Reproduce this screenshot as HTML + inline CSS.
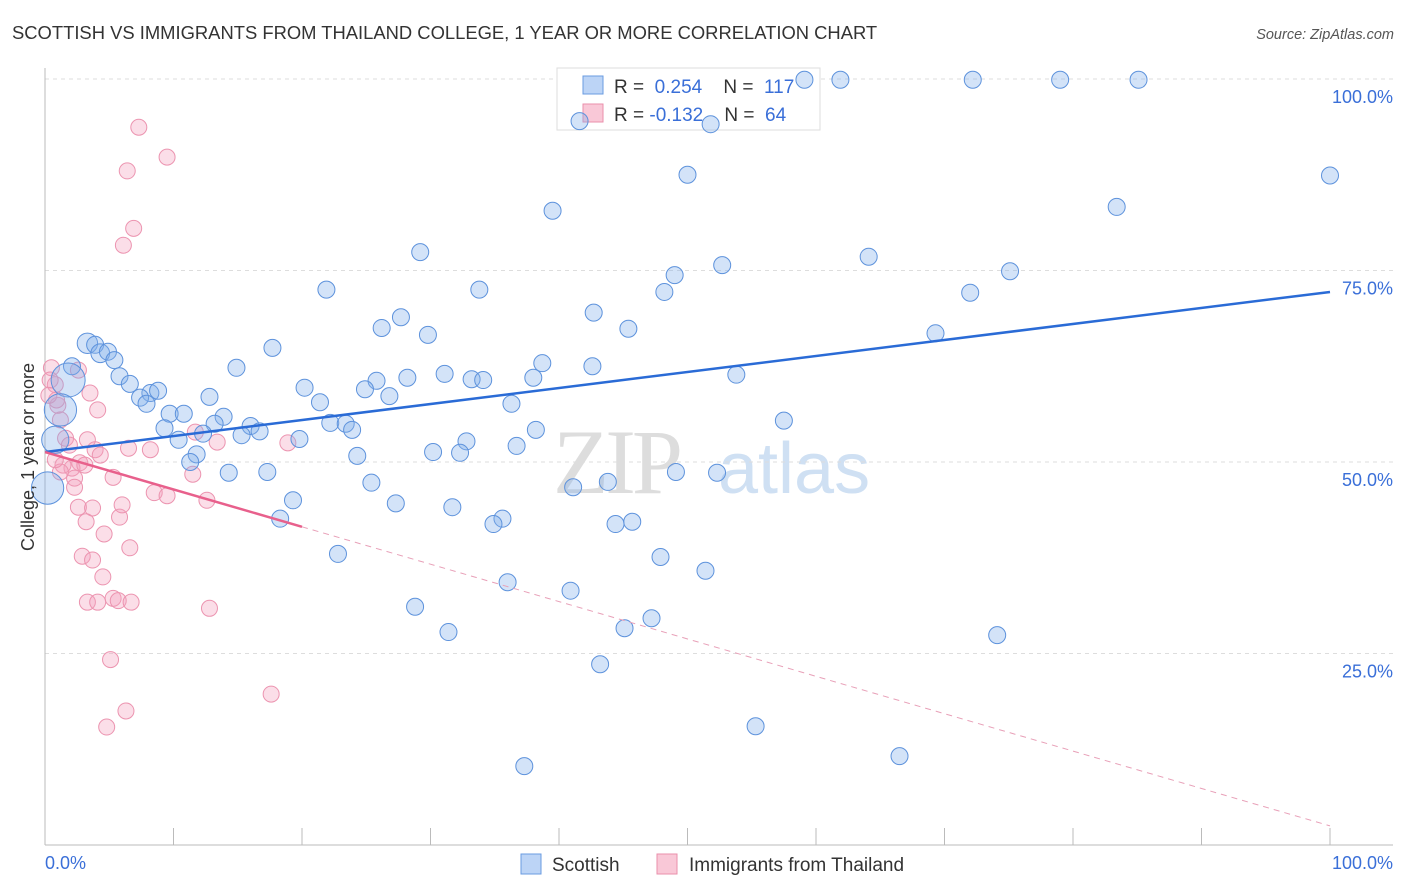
<!DOCTYPE html>
<html><head><meta charset="utf-8"><style>
body{margin:0;background:#fff;font-family:"Liberation Sans",sans-serif}
svg{display:block}
</style></head><body>
<svg id="chart" width="1406" height="892">
<text x="12" y="39" font-size="18.4" fill="#333">SCOTTISH VS IMMIGRANTS FROM THAILAND COLLEGE, 1 YEAR OR MORE CORRELATION CHART</text>
<text x="1394" y="39" font-size="14.5" fill="#555" font-style="italic" text-anchor="end">Source: ZipAtlas.com</text>
<g><text x="553" y="493" font-size="92" fill="#ddd" font-family="Liberation Serif,serif" letter-spacing="-4">ZIP</text><text x="718" y="493" font-size="72" fill="#cfe0f3">atlas</text></g>
<g id="grid"></g><g id="axes"></g>
<g>
<rect x="557" y="68" width="263" height="62" fill="#fff" stroke="#ddd"/>
<rect x="583" y="76" width="20" height="18" fill="#bcd4f6" stroke="#6a9be0"/>
<rect x="583" y="104" width="20" height="18" fill="#f9c8d7" stroke="#ea8fab"/>
<text x="614" y="93" font-size="19" fill="#333" xml:space="preserve">R =  <tspan fill="#3a6fd8">0.254</tspan>    N =  <tspan fill="#3a6fd8">117</tspan></text>
<text x="614" y="121" font-size="19" fill="#333" xml:space="preserve">R = <tspan fill="#3a6fd8">-0.132</tspan>    N =  <tspan fill="#3a6fd8">64</tspan></text>
</g>
<g id="pts"></g><g id="trend"></g>
<text transform="translate(34,457) rotate(-90)" font-size="18" fill="#333" text-anchor="middle">College, 1 year or more</text>
<g>
<rect x="521" y="854" width="20" height="20" fill="#bcd4f6" stroke="#6a9be0"/>
<text x="552" y="871" font-size="19" fill="#333">Scottish</text>
<rect x="657" y="854" width="20" height="20" fill="#f9c8d7" stroke="#ea8fab"/>
<text x="689" y="871" font-size="19" fill="#333">Immigrants from Thailand</text>
</g>
</svg>
<script>
const yTicks=[100,75,50,25];
const yTickLabels=["100.0%","75.0%","50.0%","25.0%"];
const blueX=[59.1,61.9,72.2,79.0,85.1,51.8,41.6,50.0,100,83.4,39.5,29.2,64.1,52.7,49.0,75.1,21.9,33.8,48.2,72.0,42.7,27.7,26.2,29.8,45.4,69.3,3.3,3.9,4.3,4.9,5.4,17.7,2.1,14.9,38.7,42.6,31.1,33.2,34.1,28.2,25.8,38.0,53.8,20.2,24.9,26.8,5.8,6.6,8.2,8.8,7.4,7.9,12.8,36.3,21.4,9.7,10.8,13.9,9.3,13.2,16.0,16.7,22.2,23.4,23.9,57.5,15.3,10.4,12.3,19.8,38.2,32.8,36.7,30.2,32.3,24.3,11.8,11.3,14.3,17.3,49.1,52.3,25.4,41.1,43.8,27.3,31.7,19.3,18.3,35.6,34.9,44.4,45.7,22.8,47.9,51.4,36.0,40.9,28.8,31.4,45.1,47.2,74.1,43.2,37.3,55.3,66.5,0.2,1.8,1.2,0.8];
const blueY=[99.9,99.9,99.9,99.9,99.9,94.1,94.5,87.5,87.4,83.3,82.8,77.4,76.8,75.7,74.4,74.9,72.5,72.5,72.2,72.1,69.5,68.9,67.5,66.6,67.4,66.8,65.5,65.3,64.2,64.4,63.3,64.9,62.5,62.3,62.9,62.5,61.5,60.8,60.7,61.0,60.6,61.0,61.4,59.7,59.5,58.6,61.2,60.2,59.0,59.3,58.4,57.6,58.5,57.6,57.8,56.3,56.3,55.9,54.4,55.0,54.7,54.0,55.1,55.0,54.2,55.4,53.5,52.9,53.7,53.0,54.2,52.7,52.1,51.3,51.2,50.8,51.0,50.0,48.6,48.7,48.7,48.6,47.3,46.7,47.4,44.6,44.1,45.0,42.6,42.6,41.9,41.9,42.2,38.0,37.6,35.8,34.3,33.2,31.1,27.8,28.3,29.6,27.4,23.6,10.3,15.5,11.6,46.6,60.7,56.8,52.9];
const blueSize=[1,1,1,1,1,1,1,1,1,1,1,1,1,1,1,1,1,1,1,1,1,1,1,1,1,1,1.2,1,1.1,1,1,1,1,1,1,1,1,1,1,1,1,1,1,1,1,1,1,1,1,1,1,1,1,1,1,1,1,1,1,1,1,1,1,1,1,1,1,1,1,1,1,1,1,1,1,1,1,1,1,1,1,1,1,1,1,1,1,1,1,1,1,1,1,1,1,1,1,1,1,1,1,1,1,1,1,1,1,1.9,2.0,1.9,1.6];
const pinkX=[7.3,9.5,6.4,6.9,6.1,2.6,0.5,0.8,1.0,1.2,3.5,4.1,1.6,1.9,3.3,3.9,2.7,2.1,3.1,2.3,2.3,2.6,3.7,5.3,5.8,4.6,3.2,2.9,3.7,4.5,3.3,5.3,5.7,6.7,4.1,6.0,8.5,9.5,6.6,11.5,12.6,12.8,13.4,11.7,6.5,8.2,17.6,5.1,6.3,4.8,18.9,1.4,1.2,0.8,4.3,0.9,0.4,0.3];
const pinkY=[93.7,89.8,88.0,80.5,78.3,62.0,62.3,60.1,57.4,55.5,59.0,56.8,53.1,52.2,52.9,51.6,49.9,49.2,49.6,47.9,46.7,44.1,44.0,48.0,42.8,40.6,42.2,37.7,37.2,35.0,31.7,32.2,31.9,31.7,31.7,44.4,46.0,45.6,38.8,48.4,45.0,30.9,52.6,53.9,51.8,51.6,19.7,24.2,17.5,15.4,52.5,49.6,48.7,50.3,50.9,58.1,60.7,58.7];
const blueTrend=[51.3,72.2];
const pinkTrend=[51.3,2.5];
const pinkSolidEnd=20;
const X=v=>45+v*12.85, Y=v=>845-v*7.66;
const NS="http://www.w3.org/2000/svg";
function mk(parent,tag,attrs){const e=document.createElementNS(NS,tag);for(const k in attrs)e.setAttribute(k,attrs[k]);document.getElementById(parent).appendChild(e);return e;}
yTicks.forEach((t,i)=>{
 const g=mk('grid','line',{x1:45,x2:1393,y1:Y(t),y2:Y(t),stroke:'#ddd','stroke-dasharray':'4,4'});
 
 
 const l=mk('grid','text',{x:1393,y:Y(t)+24,'font-size':18,fill:'#3a6fd8','text-anchor':'end'});
 l.textContent=yTickLabels[i];
 
 
});
let a=mk('axes','line',{x1:45,x2:45,y1:68,y2:845,stroke:'#bbb'});


a=mk('axes','line',{x1:45,x2:1393,y1:845,y2:845,stroke:'#bbb'});


for(let i=0;i<=10;i++){const t=mk('axes','line',{x1:X(i*10),x2:X(i*10),y1:828,y2:845,stroke:'#bbb'});
 
 }
let xl=mk('axes','text',{x:45,y:869,'font-size':18,fill:'#3a6fd8'});xl.textContent='0.0%';


xl=mk('axes','text',{x:1393,y:869,'font-size':18,fill:'#3a6fd8','text-anchor':'end'});xl.textContent='100.0%';


pinkX.forEach((v,i)=>{const c=mk('pts','circle',{cx:X(v),cy:Y(pinkY[i]),r:8,fill:'rgba(244,160,188,0.35)',stroke:'#ec94b0','stroke-width':1});
 
 });
blueX.forEach((v,i)=>{const c=mk('pts','circle',{cx:X(v),cy:Y(blueY[i]),r:8.5*blueSize[i],fill:'rgba(130,175,235,0.35)',stroke:'#5d92dc','stroke-width':1});
 
 });
let t=mk('trend','line',{x1:X(0),y1:Y(blueTrend[0]),x2:X(100),y2:Y(blueTrend[1]),stroke:'#2a6bd6','stroke-width':2.5});


const py=x=>pinkTrend[0]+(pinkTrend[1]-pinkTrend[0])*x/100;
t=mk('trend','line',{x1:X(0),y1:Y(py(0)),x2:X(pinkSolidEnd),y2:Y(py(pinkSolidEnd)),stroke:'#e8608c','stroke-width':2.5});


t=mk('trend','line',{x1:X(pinkSolidEnd),y1:Y(py(pinkSolidEnd)),x2:X(100),y2:Y(py(100)),stroke:'#e8a0b8','stroke-width':1,'stroke-dasharray':'6,5'});


</script>
</body></html>
